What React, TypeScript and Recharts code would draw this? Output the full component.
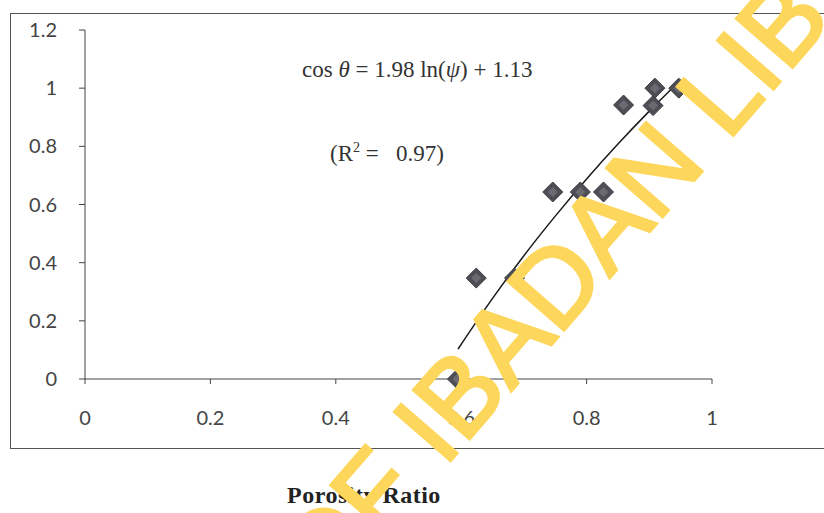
import { ComposedChart, Scatter, Line, XAxis, YAxis } from 'recharts';

// measured points (porosity ratio vs cos θ)
const porosity = [0.594, 0.624, 0.685, 0.746, 0.79, 0.827, 0.859, 0.906, 0.909, 0.947];
const cosTheta = [0.0, 0.347, 0.347, 0.643, 0.643, 0.643, 0.942, 0.94, 1.0, 1.0];

// trend curve
const fitX = [0.595, 0.65, 0.7, 0.75, 0.8, 0.85, 0.9, 0.95];
const fitY = [0.103, 0.277, 0.424, 0.56, 0.688, 0.808, 0.921, 1.028];

const xTicks = [0, 0.2, 0.4, 0.6, 0.8, 1];
const yTicks = [0, 0.2, 0.4, 0.6, 0.8, 1, 1.2];

const points = porosity.map((x, i) => ({ x, y: cosTheta[i] }));
const fit = fitX.map((x, i) => ({ x, y: fitY[i] }));

const tickFont = { fontFamily: 'Lato, sans-serif', fontSize: 20, fill: '#444' };

const Diamond = (props: any) => {
  const { cx, cy } = props;
  if (cx == null || cy == null) return null;
  const r = 10;
  return (
    <g>
      <polygon
        points={`${cx},${cy - r} ${cx + r},${cy} ${cx},${cy + r} ${cx - r},${cy}`}
        fill="#4d4d55"
        stroke="#3a3a40"
        strokeWidth={1}
      />
      <polygon
        points={`${cx},${cy - 5} ${cx + 5},${cy} ${cx},${cy + 5} ${cx - 5},${cy}`}
        fill="#6a6a70"
      />
    </g>
  );
};

export default function App() {
  return (
    <div style={{ position: 'absolute', left: 0, top: 0, width: 824, height: 513, background: '#fff', overflow: 'hidden' }}>
      {/* scanned frame */}
      <div style={{ position: 'absolute', left: 10, top: 13, width: 830, height: 434, border: '1px solid #555' }} />

      <ComposedChart
        width={824}
        height={513}
        margin={{ top: 30, right: 112, bottom: 104, left: 35 }}
        style={{ position: 'absolute', left: 0, top: 0 }}
      >
        <XAxis
          type="number"
          dataKey="x"
          domain={[0, 1]}
          ticks={xTicks}
          tickFormatter={(v) => String(v)}
          height={30}
          tickSize={5}
          tickMargin={27}
          stroke="#444"
          tickLine={{ stroke: '#444' }}
          tick={tickFont}
        />
        <YAxis
          type="number"
          dataKey="y"
          domain={[0, 1.2]}
          ticks={yTicks}
          tickFormatter={(v) => String(v)}
          width={50}
          tickSize={6}
          tickMargin={22}
          stroke="#444"
          tickLine={{ stroke: '#444' }}
          tick={tickFont}
        />
        <Line
          data={fit}
          dataKey="y"
          type="monotone"
          stroke="#1a1a1a"
          strokeWidth={1.5}
          dot={false}
          isAnimationActive={false}
        />
        <Scatter data={points} dataKey="y" shape={<Diamond />} isAnimationActive={false} />
      </ComposedChart>

      <div style={{ position: 'absolute', left: 302, top: 57, fontFamily: 'Liberation Serif, serif', fontSize: 23, color: '#333', whiteSpace: 'pre' }}>
        cos <i>θ</i> = 1.98 ln(<i>ψ</i>) + 1.13
      </div>
      <div style={{ position: 'absolute', left: 330, top: 140, fontFamily: 'Liberation Serif, serif', fontSize: 23, color: '#333', whiteSpace: 'pre' }}>
        (R<sup style={{ fontSize: 14 }}>2</sup> =   0.97)
      </div>
      <div style={{ position: 'absolute', left: 287, top: 482, fontFamily: 'Liberation Serif, serif', fontWeight: 'bold', fontSize: 24, letterSpacing: 0.5, color: '#222', whiteSpace: 'nowrap' }}>
        Porosity Ratio
      </div>

      {/* library watermark */}
      <svg width={824} height={513} style={{ position: 'absolute', left: 0, top: 0, pointerEvents: 'none' }}>
        <text
          x={0}
          y={0}
          transform="translate(326 604) rotate(-49)"
          fontFamily="Liberation Sans, sans-serif"
          fontSize={108}
          fill="#fdd75c"
          stroke="#fdd75c"
          strokeWidth={3}
        >
          OF IBADAN LIB
        </text>
      </svg>
    </div>
  );
}
